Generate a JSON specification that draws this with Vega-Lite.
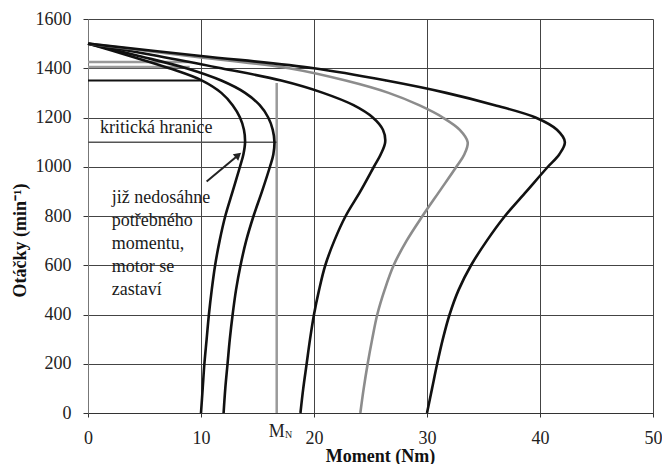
{
  "$schema": "https://vega.github.io/schema/vega-lite/v6.json",
  "autosize": {"type": "none"},
  "padding": {"left": 88, "top": 19, "right": 9, "bottom": 51},
  "width": 565,
  "height": 394,
  "background": "white",
  "config": {"font": "Liberation Serif", "view": {"stroke": null}, "text": {"font": "Liberation Serif"}},
  "datasets": {
    "curves": [
      {"curve": "c1", "M": 10.0, "n": 0}, {"curve": "c1", "M": 10.15, "n": 100}, {"curve": "c1", "M": 10.3, "n": 200},
      {"curve": "c1", "M": 10.5, "n": 300}, {"curve": "c1", "M": 10.7, "n": 400}, {"curve": "c1", "M": 10.95, "n": 500},
      {"curve": "c1", "M": 11.25, "n": 600}, {"curve": "c1", "M": 11.65, "n": 700}, {"curve": "c1", "M": 12.15, "n": 800},
      {"curve": "c1", "M": 12.8, "n": 900}, {"curve": "c1", "M": 13.45, "n": 1000}, {"curve": "c1", "M": 13.75, "n": 1050},
      {"curve": "c1", "M": 13.9, "n": 1100}, {"curve": "c1", "M": 13.8, "n": 1150}, {"curve": "c1", "M": 13.45, "n": 1200},
      {"curve": "c1", "M": 12.8, "n": 1250}, {"curve": "c1", "M": 11.8, "n": 1300}, {"curve": "c1", "M": 10.1, "n": 1350},
      {"curve": "c1", "M": 7.2, "n": 1400}, {"curve": "c1", "M": 3.7, "n": 1450}, {"curve": "c1", "M": 0, "n": 1500},
      {"curve": "c2", "M": 12.0, "n": 0}, {"curve": "c2", "M": 12.15, "n": 100}, {"curve": "c2", "M": 12.35, "n": 200},
      {"curve": "c2", "M": 12.55, "n": 300}, {"curve": "c2", "M": 12.8, "n": 400}, {"curve": "c2", "M": 13.1, "n": 500},
      {"curve": "c2", "M": 13.5, "n": 600}, {"curve": "c2", "M": 14.0, "n": 700}, {"curve": "c2", "M": 14.65, "n": 800},
      {"curve": "c2", "M": 15.4, "n": 900}, {"curve": "c2", "M": 16.1, "n": 1000}, {"curve": "c2", "M": 16.4, "n": 1050},
      {"curve": "c2", "M": 16.5, "n": 1100}, {"curve": "c2", "M": 16.35, "n": 1150}, {"curve": "c2", "M": 15.95, "n": 1200},
      {"curve": "c2", "M": 15.2, "n": 1250}, {"curve": "c2", "M": 13.9, "n": 1300}, {"curve": "c2", "M": 11.8, "n": 1350},
      {"curve": "c2", "M": 8.7, "n": 1400}, {"curve": "c2", "M": 4.5, "n": 1450}, {"curve": "c2", "M": 0, "n": 1500},
      {"curve": "c3", "M": 18.8, "n": 0}, {"curve": "c3", "M": 19.05, "n": 100}, {"curve": "c3", "M": 19.35, "n": 200},
      {"curve": "c3", "M": 19.65, "n": 300}, {"curve": "c3", "M": 20.0, "n": 400}, {"curve": "c3", "M": 20.45, "n": 500},
      {"curve": "c3", "M": 21.0, "n": 600}, {"curve": "c3", "M": 21.8, "n": 700}, {"curve": "c3", "M": 22.8, "n": 800},
      {"curve": "c3", "M": 24.1, "n": 900}, {"curve": "c3", "M": 25.3, "n": 1000}, {"curve": "c3", "M": 25.9, "n": 1050},
      {"curve": "c3", "M": 26.3, "n": 1100}, {"curve": "c3", "M": 26.1, "n": 1150}, {"curve": "c3", "M": 25.2, "n": 1200},
      {"curve": "c3", "M": 23.5, "n": 1250}, {"curve": "c3", "M": 20.8, "n": 1300}, {"curve": "c3", "M": 17.1, "n": 1350},
      {"curve": "c3", "M": 11.8, "n": 1400}, {"curve": "c3", "M": 6.2, "n": 1450}, {"curve": "c3", "M": 0, "n": 1500},
      {"curve": "c4", "M": 24.1, "n": 0}, {"curve": "c4", "M": 24.4, "n": 100}, {"curve": "c4", "M": 24.75, "n": 200},
      {"curve": "c4", "M": 25.15, "n": 300}, {"curve": "c4", "M": 25.6, "n": 400}, {"curve": "c4", "M": 26.25, "n": 500},
      {"curve": "c4", "M": 27.05, "n": 600}, {"curve": "c4", "M": 28.2, "n": 700}, {"curve": "c4", "M": 29.6, "n": 800},
      {"curve": "c4", "M": 31.1, "n": 900}, {"curve": "c4", "M": 32.6, "n": 1000}, {"curve": "c4", "M": 33.3, "n": 1050},
      {"curve": "c4", "M": 33.6, "n": 1100}, {"curve": "c4", "M": 32.9, "n": 1150}, {"curve": "c4", "M": 31.4, "n": 1200},
      {"curve": "c4", "M": 29.3, "n": 1250}, {"curve": "c4", "M": 26.6, "n": 1300}, {"curve": "c4", "M": 22.8, "n": 1350},
      {"curve": "c4", "M": 17.8, "n": 1400}, {"curve": "c4", "M": 8.9, "n": 1450}, {"curve": "c4", "M": 0, "n": 1500},
      {"curve": "c5", "M": 30.0, "n": 0}, {"curve": "c5", "M": 30.45, "n": 100}, {"curve": "c5", "M": 30.9, "n": 200},
      {"curve": "c5", "M": 31.4, "n": 300}, {"curve": "c5", "M": 32.0, "n": 400}, {"curve": "c5", "M": 32.8, "n": 500},
      {"curve": "c5", "M": 33.9, "n": 600}, {"curve": "c5", "M": 35.3, "n": 700}, {"curve": "c5", "M": 36.9, "n": 800},
      {"curve": "c5", "M": 38.8, "n": 900}, {"curve": "c5", "M": 40.7, "n": 1000}, {"curve": "c5", "M": 41.7, "n": 1050},
      {"curve": "c5", "M": 42.2, "n": 1100}, {"curve": "c5", "M": 41.5, "n": 1150}, {"curve": "c5", "M": 39.6, "n": 1200},
      {"curve": "c5", "M": 36.0, "n": 1250}, {"curve": "c5", "M": 31.7, "n": 1300}, {"curve": "c5", "M": 26.4, "n": 1350},
      {"curve": "c5", "M": 20.0, "n": 1400}, {"curve": "c5", "M": 10.0, "n": 1450}, {"curve": "c5", "M": 0, "n": 1500}
    ],
    "hlines": [
      {"kind": "gray", "n": 1425, "a": 0, "b": 9},
      {"kind": "gray", "n": 1405, "a": 0, "b": 9},
      {"kind": "black", "n": 1350, "a": 0, "b": 10},
      {"kind": "crit", "n": 1100, "a": 0, "b": 16.7}
    ],
    "vlines": [{"M": 16.7, "n0": 0, "n1": 1340}],
    "arrow": [{"M": 10.5, "n": 940}, {"M": 13.1, "n": 1040}],
    "arrowhead": [{"M": 13.3, "n": 1047}],
    "notes": [
      {"t": "kritická hranice", "M": 1.06, "n": 1157},
      {"t": "již nedosáhne", "M": 2.1, "n": 873},
      {"t": "potřebného", "M": 2.1, "n": 781},
      {"t": "momentu,", "M": 2.1, "n": 686},
      {"t": "motor se", "M": 2.1, "n": 594},
      {"t": "zastaví", "M": 2.1, "n": 500}
    ],
    "mn": [{"M": 16.7, "n": 0}]
  },
  "layer": [
    {
      "data": {"name": "vlines"},
      "mark": {"type": "rule", "color": "#9a9a9a", "strokeWidth": 2.5},
      "encoding": {
        "x": {"field": "M", "type": "quantitative", "scale": {"domain": [0, 50]},
          "axis": {"title": "Moment (Nm)", "values": [0, 10, 20, 30, 40, 50], "grid": true, "gridColor": "#444", "gridWidth": 1,
            "domainColor": "#333", "tickColor": "#333", "tickSize": 4, "labelFlush": false,
            "labelFont": "Liberation Serif", "labelFontSize": 18, "labelColor": "#222", "labelPadding": 12,
            "titleFont": "Liberation Serif", "titleFontSize": 18, "titleFontWeight": "bold", "titleColor": "#111",
            "titleX": 292, "titleY": 34}},
        "y": {"field": "n0", "type": "quantitative", "scale": {"domain": [0, 1600]},
          "axis": {"title": "Otáčky (min⁻¹)", "values": [0, 200, 400, 600, 800, 1000, 1200, 1400, 1600], "format": "d", "grid": true,
            "gridColor": "#444", "gridWidth": 1, "domainColor": "#777", "tickColor": "#333", "tickSize": 5, "labelFlush": false,
            "labelFont": "Liberation Serif", "labelFontSize": 18, "labelColor": "#222", "labelPadding": 12,
            "titleFont": "Liberation Serif", "titleFontSize": 18, "titleFontWeight": "bold", "titleColor": "#111",
            "titleX": -68, "titleY": 221, "titleBaseline": "middle"}},
        "y2": {"field": "n1"}
      }
    },
    {
      "data": {"name": "hlines"},
      "transform": [{"filter": "datum.kind == 'gray'"}],
      "mark": {"type": "rule", "color": "#9a9a9a", "strokeWidth": 2.5},
      "encoding": {"x": {"field": "a", "type": "quantitative"}, "x2": {"field": "b"}, "y": {"field": "n", "type": "quantitative"}}
    },
    {
      "data": {"name": "hlines"},
      "transform": [{"filter": "datum.kind == 'black'"}],
      "mark": {"type": "rule", "color": "#111", "strokeWidth": 2},
      "encoding": {"x": {"field": "a", "type": "quantitative"}, "x2": {"field": "b"}, "y": {"field": "n", "type": "quantitative"}}
    },
    {
      "data": {"name": "hlines"},
      "transform": [{"filter": "datum.kind == 'crit'"}],
      "mark": {"type": "rule", "color": "#555", "strokeWidth": 1.5},
      "encoding": {"x": {"field": "a", "type": "quantitative"}, "x2": {"field": "b"}, "y": {"field": "n", "type": "quantitative"}}
    },
    {
      "data": {"name": "curves"},
      "mark": {"type": "line", "interpolate": "catmull-rom", "strokeWidth": 2.6},
      "encoding": {
        "x": {"field": "M", "type": "quantitative"},
        "y": {"field": "n", "type": "quantitative"},
        "order": {"field": "n", "type": "quantitative"},
        "color": {"field": "curve", "type": "nominal", "legend": null,
          "scale": {"domain": ["c1", "c2", "c3", "c4", "c5"], "range": ["#111", "#111", "#111", "#8c8c8c", "#111"]}}
      }
    },
    {
      "data": {"name": "arrow"},
      "mark": {"type": "line", "color": "#222", "strokeWidth": 2},
      "encoding": {"x": {"field": "M", "type": "quantitative"}, "y": {"field": "n", "type": "quantitative"}}
    },
    {
      "data": {"name": "arrowhead"},
      "mark": {"type": "point", "shape": "triangle-up", "filled": true, "color": "#222", "size": 70, "angle": 50, "opacity": 1},
      "encoding": {"x": {"field": "M", "type": "quantitative"}, "y": {"field": "n", "type": "quantitative"}}
    },
    {
      "data": {"name": "notes"},
      "mark": {"type": "text", "align": "left", "baseline": "middle", "font": "Liberation Serif", "fontSize": 18, "color": "#1a1a1a"},
      "encoding": {"x": {"field": "M", "type": "quantitative"}, "y": {"field": "n", "type": "quantitative"}, "text": {"field": "t"}}
    },
    {
      "data": {"name": "mn"},
      "mark": {"type": "text", "align": "center", "baseline": "middle", "font": "Liberation Serif", "fontSize": 18, "color": "#222", "dy": 19, "text": "M"},
      "encoding": {"x": {"field": "M", "type": "quantitative"}, "y": {"field": "n", "type": "quantitative"}}
    },
    {
      "data": {"name": "mn"},
      "mark": {"type": "text", "align": "center", "baseline": "middle", "font": "Liberation Serif", "fontSize": 10, "color": "#222", "dy": 22, "dx": 12, "text": "N"},
      "encoding": {"x": {"field": "M", "type": "quantitative"}, "y": {"field": "n", "type": "quantitative"}}
    }
  ]
}
